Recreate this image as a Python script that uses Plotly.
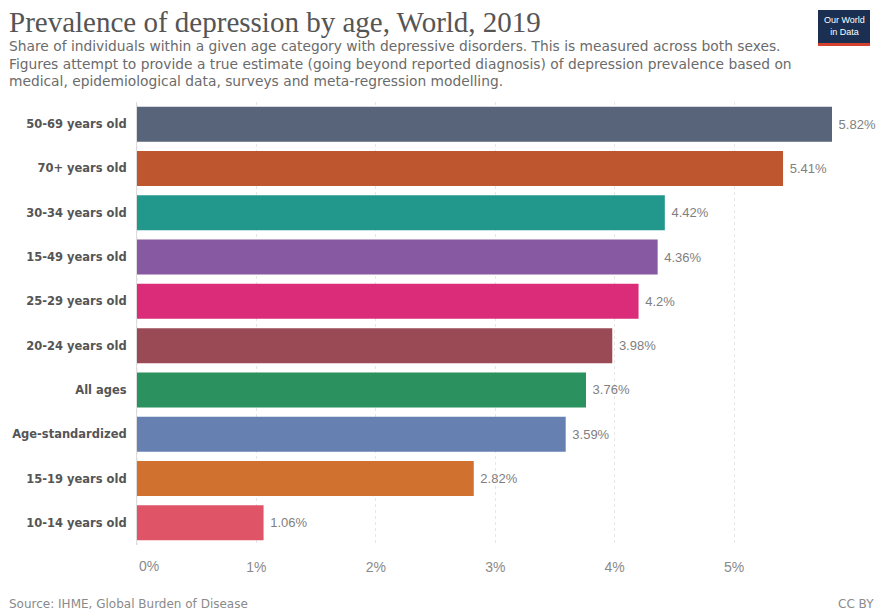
import plotly.graph_objects as go

categories = ["50-69 years old", "70+ years old", "30-34 years old", "15-49 years old",
              "25-29 years old", "20-24 years old", "All ages", "Age-standardized",
              "15-19 years old", "10-14 years old"]
values = [5.82, 5.41, 4.42, 4.36, 4.2, 3.98, 3.76, 3.59, 2.82, 1.06]
colors = ["#586479", "#BE562F", "#22978C", "#8759A2", "#DA2C79", "#9A4A54",
          "#2A915F", "#6680B2", "#D0712F", "#E05468"]
tick_vals = [1, 2, 3, 4, 5]
tick_text = ["1%", "2%", "3%", "4%", "5%"]
first_tick_val, first_tick_text = 0, "0%"

W, H = 884, 612
L, R, T, B = 137, 832, 102, 545
SANS = "Liberation Sans"
WIDE = "DejaVu Sans"


def px(x):
    return (x - L) / (R - L)


def py(y):
    return (B - y) / (B - T)


fig = go.Figure()
fig.add_trace(go.Bar(
    x=values, y=categories, orientation="h",
    marker=dict(color=colors, line=dict(width=0)),
    text=[f" {v:g}%" for v in values], textposition="outside",
    textfont=dict(family=SANS, size=13, color="#808080"),
    constraintext="none", cliponaxis=False, hoverinfo="skip",
))


def ann(text, x, y, xanchor, yanchor, font):
    return dict(text=text, x=px(x), y=py(y), xref="paper", yref="paper",
                xanchor=xanchor, yanchor=yanchor, showarrow=False, font=font)


annotations = [
    ann("Prevalence of depression by age, World, 2019", 7, 4, "left", "top",
        dict(family="Liberation Serif", size=29, color="#555555")),
]
sub = ["Share of individuals within a given age category with depressive disorders. This is measured across both sexes.",
       "Figures attempt to provide a true estimate (going beyond reported diagnosis) of depression prevalence based on",
       "medical, epidemiological data, surveys and meta-regression modelling."]
for i, s in enumerate(sub):
    annotations.append(ann(s, 7, 46 + 17.5 * i, "left", "middle",
                           dict(family=WIDE, size=13.8, color="#6b6b6b")))
annotations += [
    ann("Source: IHME, Global Burden of Disease", 7, 604, "left", "middle",
        dict(family=WIDE, size=12, color="#8a8a8a")),
    ann("CC BY", 876, 604, "right", "middle", dict(family=WIDE, size=12, color="#8a8a8a")),
    ann("Our World<br>in Data", 844, 26, "center", "middle", dict(family=SANS, size=9, color="white")),
    dict(text=first_tick_text, x=first_tick_val, xref="x", y=py(566), yref="paper",
         xanchor="left", yanchor="middle", showarrow=False,
         font=dict(family=SANS, size=14, color="#8a8a8a")),
]

shapes = [
    dict(type="rect", xref="paper", yref="paper", x0=px(818), x1=px(870), y0=py(43), y1=py(10),
         fillcolor="#1a2f52", line=dict(width=0), layer="below"),
    dict(type="rect", xref="paper", yref="paper", x0=px(818), x1=px(870), y0=py(46), y1=py(43),
         fillcolor="#d5412f", line=dict(width=0)),
    dict(type="line", xref="x", yref="paper", x0=first_tick_val, x1=first_tick_val, y0=0, y1=1,
         line=dict(color="#e6e6e6", width=1, dash="dot"), layer="below"),
]

fig.update_layout(
    width=W, height=H, margin=dict(l=L, r=W - R, t=T, b=H - B),
    paper_bgcolor="white", plot_bgcolor="white", showlegend=False,
    bargap=0.21, annotations=annotations, shapes=shapes,
    font=dict(family=SANS),
    xaxis=dict(range=[0, 5.82], tickvals=tick_vals, ticktext=tick_text,
               tickfont=dict(family=SANS, size=14, color="#8a8a8a"),
               showgrid=True, gridcolor="#e6e6e6", griddash="dot", zeroline=False,
               showline=False, ticks="", ticklabelstandoff=12, fixedrange=True),
    yaxis=dict(autorange="reversed", tickfont=dict(family=WIDE, size=11.5, color="#555", weight="bold"),
               showline=True, linecolor="#dddddd", linewidth=1, ticks="", ticklabelstandoff=7,
               showgrid=False),
)

fig.write_html("out.html")
